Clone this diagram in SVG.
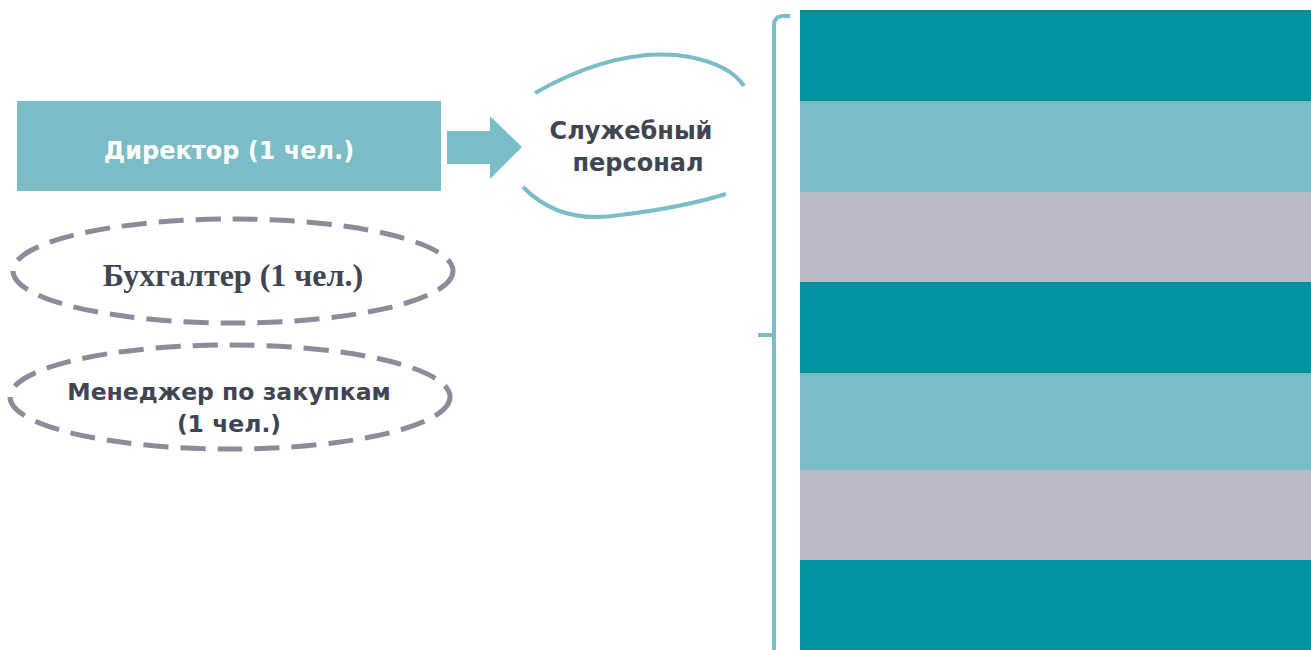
<svg xmlns="http://www.w3.org/2000/svg" width="1311" height="650" viewBox="0 0 1311 650">
<style>
.dark{fill:#00939F}
.light{fill:#7BBDC5}
.gray{fill:#B8BBC3}
.curve{fill:none;stroke:#7BBDC5;stroke-width:4;stroke-linecap:butt}
.dash{fill:none;stroke:#8A8C99;stroke-width:5;stroke-dasharray:25 12}
.sans{font-family:"DejaVu Sans","Verdana",sans-serif;font-weight:bold}
.serif{font-family:"Liberation Serif","Times New Roman",serif;font-weight:bold}
.darktext{fill:#404552}
</style>
<rect width="1311" height="650" fill="#FFFFFF"/>
<g id="stripes">
<rect class="dark" x="800" y="10" width="511" height="91"/>
<rect class="light" x="800" y="101" width="511" height="91"/>
<rect class="gray" x="800" y="192" width="511" height="90"/>
<rect class="dark" x="800" y="282" width="511" height="91"/>
<rect class="light" x="800" y="373" width="511" height="97"/>
<rect class="gray" x="800" y="470" width="511" height="90"/>
<rect class="dark" x="800" y="560" width="511" height="90"/>
</g>
<g id="bracket">
<path class="curve" stroke-width="5" d="M790,16 L782,16 Q774,17 774,25 L774,650"/>
<path class="curve" stroke-width="5" stroke-linecap="round" d="M758,335 L774,335"/>
</g>
<g id="director">
<rect class="light" x="17" y="101" width="424" height="90"/>
<text class="sans" x="229" y="159" font-size="24" fill="#FFFFFF" text-anchor="middle">Директор (1 чел.)</text>
</g>
<g id="connectors">
<polygon class="light" points="447,131 490,131 490,116 522,147 490,179 490,164 447,164"/>
</g>
<g id="staff">
<path class="curve" d="M535,93 Q620,45 690,57 Q730,65 744,86"/>
<path class="curve" d="M523,187 Q560,225 620,215 Q680,208 726,194"/>
<text class="sans darktext" font-size="24" text-anchor="middle"><tspan x="631" y="139">Служебный</tspan><tspan x="638" y="171">персонал</tspan></text>
</g>
<g id="accountant">
<ellipse class="dash" cx="233" cy="271" rx="220" ry="52"/>
<text class="serif darktext" x="233" y="286" font-size="32" text-anchor="middle">Бухгалтер (1 чел.)</text>
</g>
<g id="manager">
<ellipse class="dash" cx="230" cy="397" rx="220" ry="52"/>
<text class="sans darktext" font-size="23.5" text-anchor="middle"><tspan x="229" y="400">Менеджер по закупкам</tspan><tspan x="229" y="432">(1 чел.)</tspan></text>
</g>
</svg>
